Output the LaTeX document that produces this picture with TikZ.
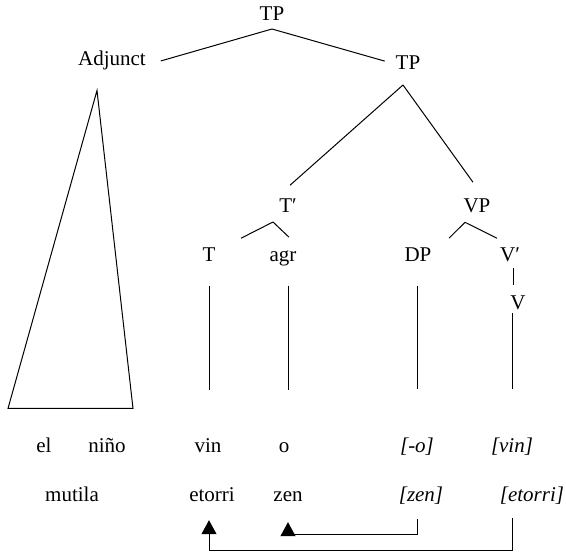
\documentclass[tikz,border=0pt]{standalone}
\usepackage{fontspec}
\setmainfont{Liberation Serif}
\usepackage{tikz}
\usetikzlibrary{arrows.meta}
\newcommand{\treefont}{\fontsize{21}{25}\selectfont}
\tikzstyle{cat}=[anchor=base,inner sep=0pt,outer sep=0pt]
\tikzstyle{gloss}=[cat,font=\treefont\itshape]
\tikzstyle{branch}=[draw,line width=1pt]
\tikzstyle{move}=[branch,-{Triangle[width=15pt,length=14pt]}]

\begin{document}
\begin{tikzpicture}[x=1pt,y=-1pt,font=\treefont]
	\useasboundingbox (0,0) rectangle (566,553);
	\node[cat] (tp0) at (272,21) {TP};
	\node[cat] (adj) at (112,66) {Adjunct};
	\node[cat] (tp1) at (408,70) {TP};
	\node[cat] (tbar) at (288,213) {T′};
	\node[cat] (vp) at (477,213) {VP};
	\node[cat] (t) at (209,262) {T};
	\node[cat] (agr) at (283,262) {agr};
	\node[cat] (dp) at (418,262) {DP};
	\node[cat] (vbar) at (510,262) {V′};
	\node[cat] (v) at (518,310) {V};
	
	\node[cat] (el) at (44,453) {el};
	\node[cat] (nino) at (107,453) {niño};
	\node[cat] (vin) at (208,453) {vin};
	\node[cat] (o) at (284,453) {o};
	\node[gloss] (mo) at (417,453) {[-o]};
	\node[gloss] (mvin) at (512,453) {[vin]};
	
	\node[cat] (mutila) at (72,502) {mutila};
	\node[cat] (etorri) at (212,502) {etorri};
	\node[cat] (zen) at (288,502) {zen};
	\node[gloss] (mzen) at (421,502) {[zen]};
	\node[gloss] (metorri) at (532,502) {[etorri]};
	
	% tree
	\path[branch] ([yshift=-8pt]tp0.south) -- ([xshift=15pt]adj.east);
	\path[branch] ([yshift=-8pt]tp0.south) -- ([xshift=-11pt,yshift=2pt]tp1.west);
	\path[branch] ([xshift=-15pt,yshift=-20pt]adj.south) -- ++(-89,318) 
	-- ++(125,0) -- cycle;
	\path[branch] ([xshift=-5pt,yshift=-15pt]tp1.south) -- ([xshift=2pt,yshift=14pt]tbar.north);
	\path[branch] ([xshift=-5pt,yshift=-15pt]tp1.south) -- ([xshift=-4pt,yshift=17pt]vp.north);
	\path[branch] ([xshift=-15pt,yshift=-9pt]tbar.south) -- ([xshift=32pt,yshift=10pt]t.north);
	\path[branch] ([xshift=-15pt,yshift=-9pt]tbar.south) -- ([xshift=6pt,yshift=14pt]agr.north);
	\path[branch] ([xshift=-12pt,yshift=-9pt]vp.south) -- ([xshift=31pt,yshift=10pt]dp.north);
	\path[branch] ([xshift=-12pt,yshift=-9pt]vp.south) -- ([xshift=-13pt,yshift=10pt]vbar.north);
	\path[branch] ([xshift=3pt,yshift=-6pt]vbar.south) -- ([xshift=-5pt,yshift=11pt]v.north);
	
	% stems down to the words
	\path[branch,shorten <=24pt,shorten >=49pt] (t.south) -- (t.south |- vin.north);
	\path[branch,shorten <=19pt,shorten >=53pt] (zen |- agr.south) -- (zen |- o.north);
	\path[branch,shorten <=24pt,shorten >=49pt] (mo |- dp.south) -- (mo.north);
	\path[branch,shorten <=3pt,shorten >=49pt] (mvin |- v.south) -- (mvin.north);
	
	% movement
	\path[move,shorten <=13pt,shorten >=18pt] (mvin |- metorri.south) -- ++(0,46) 
	-| (t |- etorri.south);
	\path[move,shorten <=14pt,shorten >=20pt] (mo |- mzen.south) -- ++(0,30) 
	-| (zen.south);
\end{tikzpicture}
\end{document}
